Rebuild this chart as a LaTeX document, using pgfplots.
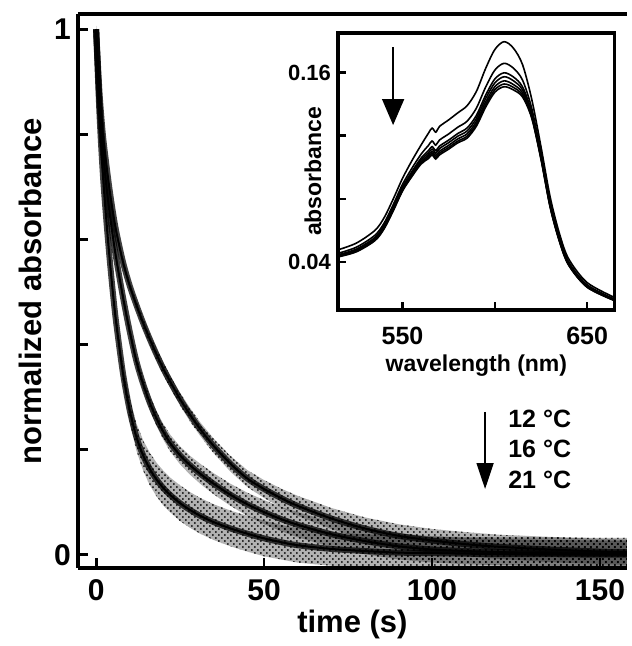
\documentclass[border=0pt]{standalone}
\usepackage{fontspec}
\setmainfont{Liberation Sans}
\usepackage{pgfplots}
\usepackage{pgfplotstable}
\pgfplotsset{compat=1.18}
\usepgfplotslibrary{fillbetween}
\usetikzlibrary{arrows.meta,patterns}

% decay traces: time (s), fitted normalized absorbance, half-width of the data scatter
\pgfplotstableread{
t A w
0 1.000 0.006
1 0.880 0.006
2 0.800 0.006
3 0.745 0.006
4 0.695 0.006
5 0.652 0.006
6 0.615 0.007
8 0.557 0.008
10 0.512 0.008
12 0.475 0.009
14 0.441 0.010
16 0.410 0.011
18 0.381 0.011
20 0.354 0.012
22 0.330 0.012
25 0.296 0.012
28 0.266 0.013
31 0.239 0.013
35 0.207 0.014
40 0.173 0.015
45 0.145 0.016
50 0.125 0.017
55 0.108 0.018
60 0.093 0.019
70 0.069 0.020
80 0.050 0.021
90 0.036 0.022
100 0.027 0.022
110 0.020 0.023
120 0.015 0.023
135 0.010 0.024
150 0.006 0.024
158 0.005 0.024
}\slowdata

\pgfplotstableread{
t A w
0 1.000 0.006
1 0.860 0.006
2 0.770 0.006
3 0.705 0.007
4 0.652 0.007
5 0.605 0.007
6 0.563 0.008
8 0.490 0.009
10 0.425 0.010
12 0.368 0.011
14 0.325 0.012
16 0.289 0.013
18 0.259 0.014
20 0.234 0.015
22 0.213 0.016
25 0.189 0.017
28 0.170 0.018
31 0.154 0.019
35 0.135 0.020
40 0.114 0.021
45 0.096 0.022
50 0.081 0.023
55 0.068 0.023
60 0.057 0.024
70 0.039 0.024
80 0.026 0.025
90 0.016 0.025
100 0.010 0.025
110 0.007 0.025
120 0.005 0.025
135 0.003 0.025
150 0.002 0.025
158 0.002 0.025
}\middata

\pgfplotstableread{
t A w
0 1.000 0.007
1 0.840 0.007
2 0.725 0.008
3 0.640 0.009
4 0.565 0.010
5 0.498 0.012
6 0.440 0.014
8 0.345 0.018
10 0.275 0.022
12 0.224 0.026
14 0.189 0.029
16 0.163 0.031
18 0.143 0.032
20 0.127 0.033
22 0.114 0.033
25 0.098 0.034
28 0.085 0.034
31 0.074 0.034
35 0.062 0.034
40 0.050 0.034
45 0.040 0.034
50 0.031 0.034
55 0.024 0.033
60 0.018 0.033
70 0.011 0.032
80 0.007 0.032
90 0.004 0.032
100 0.003 0.032
110 0.002 0.032
120 0.001 0.032
135 0.001 0.032
150 0.000 0.032
158 0.000 0.032
}\fastdata

% inset spectra, one column per scan
\pgfplotstableread{
nm c1 c2 c3 c4 c5 c6 c7
515 .0477 .0455 .0446 .0442 .0438 .0435 .0432
525 .0520 .0494 .0482 .0477 .0472 .0468 .0465
535 .0600 .0569 .0555 .0549 .0543 .0539 .0535
540 .0680 .0646 .0632 .0625 .0619 .0614 .0610
545 .0800 .0764 .0748 .0741 .0735 .0729 .0725
550 .0930 .0892 .0875 .0868 .0860 .0855 .0850
555 .1040 .0992 .0971 .0962 .0953 .0946 .0940
560 .1140 .1082 .1057 .1046 .1036 .1027 .1020
564 .1215 .1138 .1105 .1090 .1076 .1065 .1055
566 .1248 .1166 .1131 .1115 .1100 .1088 .1078
568 .1222 .1140 .1105 .1089 .1074 .1062 .1052
570 .1258 .1172 .1134 .1118 .1101 .1089 .1078
575 .1300 .1211 .1172 .1156 .1139 .1126 .1115
580 .1345 .1254 .1214 .1197 .1180 .1166 .1155
585 .1390 .1292 .1249 .1230 .1212 .1197 .1185
590 .1480 .1374 .1328 .1308 .1289 .1273 .1260
595 .1625 .1507 .1456 .1434 .1412 .1395 .1380
600 .1745 .1615 .1559 .1534 .1510 .1491 .1475
605 .1795 .1658 .1598 .1573 .1547 .1527 .1510
610 .1755 .1628 .1572 .1548 .1524 .1506 .1490
615 .1650 .1552 .1509 .1490 .1472 .1457 .1445
620 .1430 .1372 .1347 .1336 .1326 .1317 .1310
625 .1130 .1092 .1075 .1068 .1060 .1055 .1050
630 .0810 .0779 .0765 .0759 .0753 .0749 .0745
635 .0580 .0556 .0545 .0541 .0536 .0533 .0530
640 .0420 .0401 .0392 .0389 .0385 .0382 .0380
650 .0270 .0256 .0249 .0247 .0244 .0242 .0240
665 .0175 .0165 .0161 .0159 .0158 .0156 .0155
}\spectra

\begin{document}
\begin{tikzpicture}
\begin{axis}[
    scale only axis,
    width=274.5pt, height=277pt,
    xmin=-5.4, xmax=158,
    ymin=-0.025, ymax=1.029,
    axis x line=box, axis y line=left,
    axis line style={line width=1.8pt, -},
    tick align=inside,
    xtick pos=left, ytick pos=left,
    xtick={0,50,100,150},
    ytick={0,0.2,0.4,0.6,0.8,1},
    yticklabels={0,,,,,1},
    major tick length=5pt,
    major tick style={line width=1.4pt, black},
    /pgf/number format/assume math mode=true,
    tick label style={font=\fontsize{15}{17}\selectfont\bfseries},
    xticklabel style={yshift=-2.5pt},
    label style={font=\fontsize{15.5}{18}\selectfont\bfseries},
    xlabel={time (s)},
    ylabel={normalized absorbance},
    xlabel style={at={(axis description cs:0.5,-0.103)}, anchor=center},
    ylabel style={at={(axis description cs:-0.087,0.5)}, anchor=center},
]
% scatter bands of the raw data
\addplot[draw=none, name path=su, forget plot] table[x=t, y expr=\thisrow{A}+\thisrow{w}] {\slowdata};
\addplot[draw=none, name path=sl, forget plot] table[x=t, y expr=\thisrow{A}-\thisrow{w}] {\slowdata};
\addplot[fill=black, fill opacity=0.3, draw=none] fill between[of=su and sl];
\addplot[pattern=crosshatch dots, pattern color=black, draw=none] fill between[of=su and sl];
\addplot[draw=none, name path=mu, forget plot] table[x=t, y expr=\thisrow{A}+\thisrow{w}] {\middata};
\addplot[draw=none, name path=ml, forget plot] table[x=t, y expr=\thisrow{A}-\thisrow{w}] {\middata};
\addplot[fill=black, fill opacity=0.3, draw=none] fill between[of=mu and ml];
\addplot[pattern=crosshatch dots, pattern color=black, draw=none] fill between[of=mu and ml];
\addplot[draw=none, name path=fu, forget plot] table[x=t, y expr=\thisrow{A}+\thisrow{w}] {\fastdata};
\addplot[draw=none, name path=fl, forget plot] table[x=t, y expr=\thisrow{A}-\thisrow{w}] {\fastdata};
\addplot[fill=black, fill opacity=0.3, draw=none] fill between[of=fu and fl];
\addplot[pattern=crosshatch dots, pattern color=black, draw=none] fill between[of=fu and fl];
% dense data along the fits
\addplot[black, opacity=0.75, line width=3pt, smooth] table[x=t, y=A] {\slowdata};
\addplot[black, opacity=0.75, line width=3pt, smooth] table[x=t, y=A] {\middata};
\addplot[black, opacity=0.75, line width=3pt, smooth] table[x=t, y=A] {\fastdata};
% fits
\addplot[black, line width=1pt, smooth] table[x=t, y=A] {\slowdata};
\addplot[black, line width=1pt, smooth] table[x=t, y=A] {\middata};
\addplot[black, line width=1pt, smooth] table[x=t, y=A] {\fastdata};

\draw[line width=0.7pt, -{Triangle[width=8.5pt,length=13pt]}] (axis cs:115.8,0.272) -- (axis cs:115.8,0.125);
\node[anchor=west, inner sep=0pt, font=\fontsize{12.5}{14}\selectfont\bfseries] at (axis cs:122.6,0.259) {12 °C};
\node[anchor=west, inner sep=0pt, font=\fontsize{12.5}{14}\selectfont\bfseries] at (axis cs:122.6,0.2015) {16 °C};
\node[anchor=west, inner sep=0pt, font=\fontsize{12.5}{14}\selectfont\bfseries] at (axis cs:122.6,0.1426) {21 °C};
\end{axis}

\begin{axis}[
    at={(130pt,129pt)}, anchor=south west,
    scale only axis,
    width=138.5pt, height=138.5pt,
    xmin=515, xmax=665,
    ymin=0.0097, ymax=0.185,
    axis background/.style={fill=white},
    axis line style={line width=1.6pt},
    tick align=inside,
    xtick pos=left, ytick pos=left,
    xtick={550,600,650}, xticklabels={550,,650},
    ytick={0.04,0.08,0.12,0.16}, yticklabels={0.04,,,0.16},
    major tick length=4pt,
    major tick style={line width=1.2pt, black},
    xticklabel style={font=\fontsize{12.5}{14}\selectfont\bfseries, yshift=-5pt},
    yticklabel style={font=\fontsize{11}{13}\selectfont\bfseries},
    label style={font=\fontsize{11.5}{13}\selectfont\bfseries},
    xlabel={wavelength (nm)},
    ylabel={absorbance},
    xlabel style={at={(axis description cs:0.5,-0.202)}, anchor=center},
    ylabel style={at={(axis description cs:-0.09,0.5)}, anchor=center},
]
\addplot[black, line width=0.8pt, smooth] table[x=nm, y=c1] {\spectra};
\addplot[black, line width=0.8pt, smooth] table[x=nm, y=c2] {\spectra};
\addplot[black, line width=0.8pt, smooth] table[x=nm, y=c3] {\spectra};
\addplot[black, line width=0.8pt, smooth] table[x=nm, y=c4] {\spectra};
\addplot[black, line width=0.8pt, smooth] table[x=nm, y=c5] {\spectra};
\addplot[black, line width=0.8pt, smooth] table[x=nm, y=c6] {\spectra};
\addplot[black, line width=0.8pt, smooth] table[x=nm, y=c7] {\spectra};
\draw[line width=0.7pt, -{Triangle[width=11pt,length=13pt]}] (axis cs:544.9,0.176) -- (axis cs:544.9,0.1267);
\end{axis}
% page margins as in the reference
\path (-39pt,-39pt) rectangle (274.5pt,284pt);
\end{tikzpicture}
\end{document}
